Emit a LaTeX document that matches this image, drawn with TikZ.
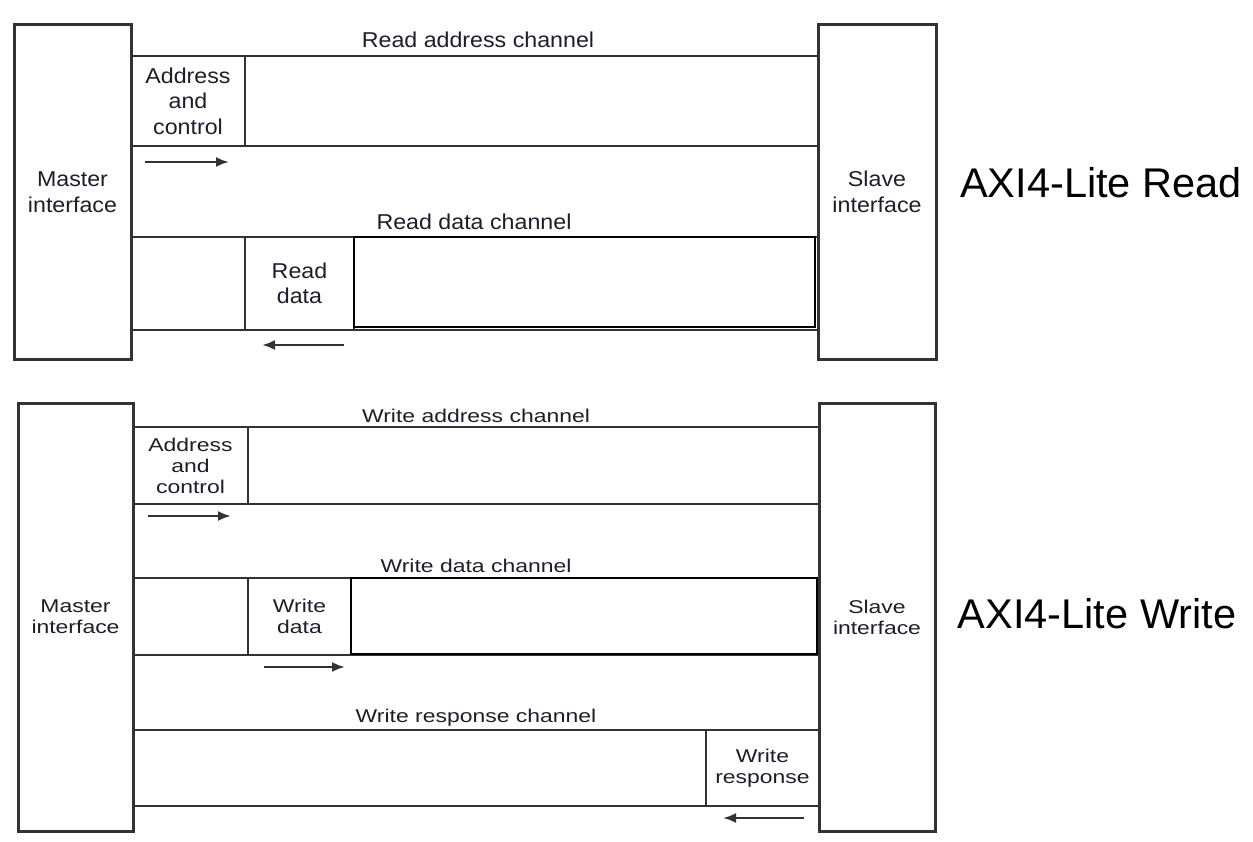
\documentclass[tikz,border=0pt]{standalone}
\usepackage{fontspec}
\setmainfont{Liberation Sans}
\newfontfamily\rfont[FakeStretch=1.08]{Liberation Sans}
\newfontfamily\wfont[FakeStretch=1.24]{Liberation Sans}
\usetikzlibrary{arrows.meta,positioning}
\definecolor{linegray}{HTML}{333333}
\definecolor{txtdark}{HTML}{1E1E2A}
\tikzset{
  iface/.style={draw=linegray, line width=3pt, align=center, inner sep=0pt, text=txtdark},
  cell/.style={draw=linegray, line width=2.4pt, align=center, inner sep=0pt, outer sep=0pt, anchor=north west, text=txtdark},
  payload/.style={draw=black, line width=2.8pt, inner sep=0pt, outer sep=0pt, anchor=north west},
  chan/.style={draw=linegray, line width=2.4pt},
  chname/.style={anchor=base, inner sep=0pt, text=txtdark},
  flow/.style={draw=linegray, line width=2.4pt, -{Latex[length=13pt,width=10pt]}},
  rtext/.style={font=\rfont\fontsize{21.5}{25.5}\selectfont},
  wtext/.style={font=\wfont\fontsize{18.5}{21}\selectfont},
  title/.style={anchor=base, inner sep=0pt, font=\fontsize{41.5}{48}\selectfont}
}
\begin{document}
\begin{tikzpicture}[x=1pt,y=-1pt]
\useasboundingbox (0,0) rectangle (1253,842);

% Read side
\node[iface, rtext, minimum width=117pt, minimum height=334pt] (mr) at (72.5,192) {Master\\interface};
\node[iface, rtext, minimum width=118pt, minimum height=334pt] (sr) at (877,192) {Slave\\interface};
\foreach \y in {56,146,237,330}
    \draw[chan] (mr.east |- 0,\y) -- (sr.west |- 0,\y);
\node[chname, rtext] (rach) at (478,48) {Read address channel};
\node[chname, rtext] (rdch) at (474,230) {Read data channel};
\node[cell, rtext, minimum width=114pt, minimum height=90pt] (rac) at (131,56) {Address\\and\\control};
\node[cell, rtext, minimum width=109pt, minimum height=93pt] (rdat) at (245,237) {Read\\data};
\node[payload, minimum width=461pt, minimum height=90pt] (rpay) at (rdat.north east) {};
\draw[flow] ([shift={(14,16)}]rac.south west) -- ++(84,0);
\draw[flow] ([shift={(-10,15)}]rdat.south east) -- ++(-82,0);
\node[title] (trd) at (1101,198) {AXI4-Lite Read};

% Write side
\node[iface, wtext, minimum width=115pt, minimum height=428pt] (mw) at (75.5,617) {Master\\interface};
\node[iface, wtext, minimum width=116pt, minimum height=428pt] (sw) at (877,617) {Slave\\interface};
\foreach \y in {427,504,578,655,730,806}
    \draw[chan] (mw.east |- 0,\y) -- (sw.west |- 0,\y);
\node[chname, wtext] (wach) at (476,422) {Write address channel};
\node[chname, wtext] (wdch) at (476,572) {Write data channel};
\node[chname, wtext] (wrch) at (476,722) {Write response channel};
\node[cell, wtext, minimum width=115pt, minimum height=77pt] (wac) at (133,427) {Address\\and\\control};
\node[cell, wtext, minimum width=103pt, minimum height=77pt] (wdat) at (248,578) {Write\\data};
\node[payload, minimum width=466pt, minimum height=76pt] (wpay) at (wdat.north east) {};
\node[cell, wtext, minimum width=113pt, minimum height=76pt] (wresp) at (706,730) {Write\\response};
\draw[flow] ([shift={(15,12)}]wac.south west) -- ++(83,0);
\draw[flow] ([shift={(16,12)}]wdat.south west) -- ++(81,0);
\draw[flow] ([shift={(-15,12)}]wresp.south east) -- ++(-81,0);
\node[title] (twr) at (1097,628) {AXI4-Lite Write};
\end{tikzpicture}
\end{document}
